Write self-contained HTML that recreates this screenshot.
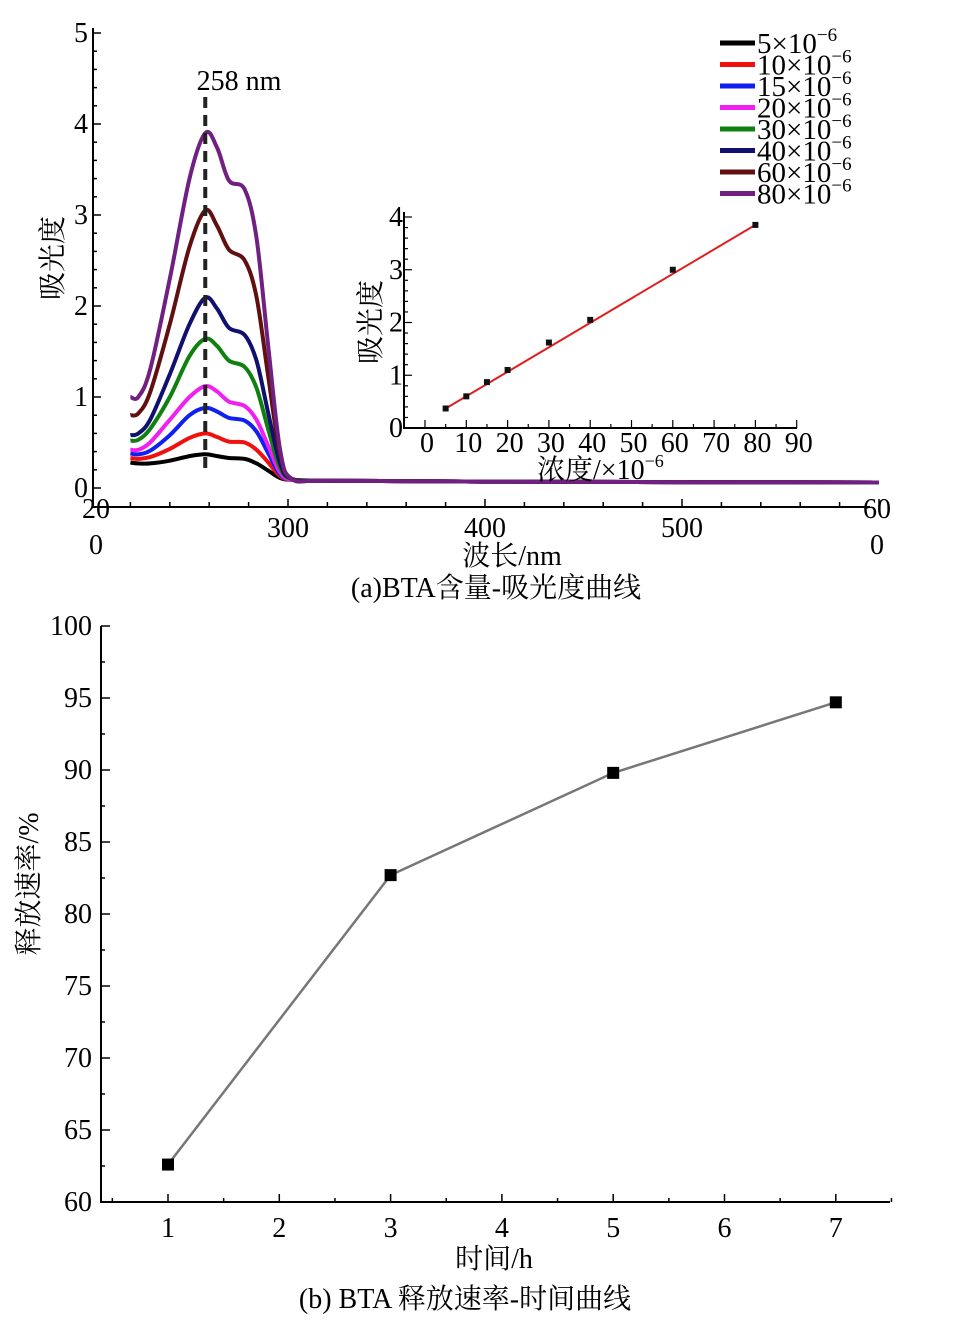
<!DOCTYPE html>
<html><head><meta charset="utf-8"><style>
body{margin:0;background:#fff;}
svg{display:block;font-family:"Liberation Serif","Noto Serif CJK SC",serif;}
</style></head><body>
<svg id="fig" width="954" height="1325" viewBox="0 0 954 1325" xmlns="http://www.w3.org/2000/svg">
<g id="topchart"></g>
<g id="inset"></g>
<g id="bot"></g>
</svg>
<script>
// ---- Top chart data ----
const wavelengths=[220,224,230,240,250,258,264,270,278,284,290,296,302,320,400,600];
const seriesLabels=["5","10","15","20","30","40","60","80"];
const seriesColors=["#000","#f01010","#1020f0","#f020f0","#108010","#101070","#601010","#702080"];
const s5 =[0.28,0.27,0.27,0.30,0.35,0.37,0.35,0.33,0.32,0.27,0.19,0.11,0.09,0.08,0.07,0.06];
const s10=[0.33,0.32,0.34,0.43,0.55,0.60,0.56,0.51,0.50,0.42,0.28,0.13,0.09,0.08,0.07,0.06];
const s15=[0.38,0.37,0.41,0.58,0.80,0.88,0.84,0.77,0.74,0.62,0.38,0.15,0.09,0.08,0.07,0.06];
const s20=[0.42,0.42,0.50,0.75,1.00,1.12,1.06,0.95,0.90,0.75,0.46,0.17,0.09,0.08,0.07,0.06];
const s30=[0.52,0.53,0.65,1.00,1.45,1.64,1.56,1.40,1.33,1.10,0.64,0.22,0.10,0.08,0.07,0.06];
const s40=[0.58,0.60,0.75,1.25,1.80,2.09,1.97,1.76,1.68,1.40,0.82,0.27,0.10,0.08,0.07,0.06];
const s60=[0.80,0.82,1.05,1.80,2.65,3.05,2.88,2.62,2.50,2.10,1.22,0.37,0.10,0.08,0.07,0.06];
const s80=[1.00,1.00,1.30,2.30,3.40,3.90,3.74,3.38,3.28,2.75,1.55,0.42,0.10,0.08,0.07,0.06];
const allSeries=[s5,s10,s15,s20,s30,s40,s60,s80];
const topYTicks=[0,1,2,3,4,5];
const topXTicks=[300,400,500];
// ---- Inset data ----
const insetConc=[5,10,15,20,30,40,60,80];
const insetAbs=[0.37,0.60,0.87,1.10,1.62,2.05,3.00,3.85];
const insetXTicks=[0,10,20,30,40,50,60,70,80,90];
const insetYTicks=[0,1,2,3,4];
// ---- Bottom chart data ----
const timeH=[1,3,5,7];
const releaseRate=[62.6,82.7,89.8,94.7];
const botXTicks=[1,2,3,4,5,6,7];
const botYTicks=[60,65,70,75,80,85,90,95,100];

const NS="http://www.w3.org/2000/svg";
function mk(parent,tag,attrs,text){const el=document.createElementNS(NS,tag);for(const k in attrs)el.setAttribute(k,attrs[k]);if(text!==undefined)el.textContent=text;parent.appendChild(el);return el;}
function smoothPath(pts){let d='M'+pts[0][0].toFixed(1)+','+pts[0][1].toFixed(1);
for(let i=0;i<pts.length-1;i++){const p0=pts[Math.max(0,i-1)],p1=pts[i],p2=pts[i+1],p3=pts[Math.min(pts.length-1,i+2)];
const c1=[p1[0]+(p2[0]-p0[0])/6,p1[1]+(p2[1]-p0[1])/6],c2=[p2[0]-(p3[0]-p1[0])/6,p2[1]-(p3[1]-p1[1])/6];
d+=' C'+c1[0].toFixed(1)+','+c1[1].toFixed(1)+' '+c2[0].toFixed(1)+','+c2[1].toFixed(1)+' '+p2[0].toFixed(1)+','+p2[1].toFixed(1);}
return d;}

// ===== Top chart =====
const topG=document.getElementById('topchart');
const tx=l=>91+(l-200)*1.97, ty=v=>488-v*91;
let e=mk(topG,'line',{x1:93,y1:28,x2:93,y2:507,stroke:'#000','stroke-width':2});

e=mk(topG,'line',{x1:92,y1:507,x2:870,y2:507,stroke:'#000','stroke-width':2});

for(let v=0;v<=5.001;v+=0.2){const t=mk(topG,'line',{x1:93,y1:ty(v),x2:(Math.abs(v-Math.round(v))<1e-6?101:97),y2:ty(v),stroke:'#000','stroke-width':1.5});
}
for(let l=220;l<=600;l+=20){const t=mk(topG,'line',{x1:tx(l),y1:507,x2:tx(l),y2:(l%100===0?499:502),stroke:'#000','stroke-width':1.5});
}
topYTicks.forEach(v=>{const t=mk(topG,'text',{x:88,y:ty(v)+9,'font-size':28,'text-anchor':'end'},String(v));
});
topXTicks.forEach(v=>{const t=mk(topG,'text',{x:tx(v),y:537,'font-size':28,'text-anchor':'middle'},String(v));
});
[[96,518,'20'],[96,554,'0'],[877,518,'60'],[877,554,'0']].forEach(a=>{const t=mk(topG,'text',{x:a[0],y:a[1],'font-size':28,'text-anchor':'middle'},a[2]);
});
e=mk(topG,'text',{x:512,y:565,'font-size':28,'text-anchor':'middle'},'波长/nm');

e=mk(topG,'text',{transform:'translate(62,258) rotate(-90)','font-size':28,'text-anchor':'middle'},'吸光度');

e=mk(topG,'text',{x:496,y:597,'font-size':28,'text-anchor':'middle'},'(a)BTA含量-吸光度曲线');

allSeries.forEach((s,i)=>{const pts=s.map((v,j)=>[tx(wavelengths[j]),ty(v)]);
const p=mk(topG,'path',{d:smoothPath(pts),fill:'none',stroke:seriesColors[i],'stroke-width':4,'stroke-linejoin':'round'});
});
e=mk(topG,'line',{x1:tx(258),y1:97,x2:tx(258),y2:470,stroke:'#222','stroke-width':4,'stroke-dasharray':'11,7'});

e=mk(topG,'text',{x:239,y:90,'font-size':28,'text-anchor':'middle'},'258 nm');

seriesLabels.forEach((lab,i)=>{const y=43+i*21.5;
const l=mk(topG,'line',{x1:720,y1:y,x2:755,y2:y,stroke:seriesColors[i],'stroke-width':5});

const t=mk(topG,'text',{x:757,y:y+10,'font-size':29},lab+'×10');

mk(t,'tspan',{dy:-12,'font-size':19},'−6');});

// ===== Inset =====
const ins=document.getElementById('inset');
const ix=c=>425+c*4.13, iy=v=>428-v*52.75;
e=mk(ins,'line',{x1:404,y1:212,x2:404,y2:429,stroke:'#000','stroke-width':2});

e=mk(ins,'line',{x1:403,y1:428,x2:797,y2:428,stroke:'#000','stroke-width':2});

for(let v=0;v<=4.001;v+=0.2){const t=mk(ins,'line',{x1:404,y1:iy(v),x2:(Math.abs(v-Math.round(v))<1e-6?412:408),y2:iy(v),stroke:'#000','stroke-width':1.2});
}
for(let c=0;c<=90;c+=5){const t=mk(ins,'line',{x1:ix(c),y1:428,x2:ix(c),y2:(c%10===0?420:424),stroke:'#000','stroke-width':1.2});
}
insetYTicks.forEach(v=>{const t=mk(ins,'text',{x:403,y:iy(v)+9,'font-size':28,'text-anchor':'end'},String(v));
});
insetXTicks.forEach(v=>{const t=mk(ins,'text',{x:ix(v)+2,y:452,'font-size':28,'text-anchor':'middle'},String(v));
});
e=mk(ins,'text',{x:537,y:479,'font-size':28},'浓度/×10');

mk(e,'tspan',{dy:-12,'font-size':18},'−6');
e=mk(ins,'text',{transform:'translate(380,322) rotate(-90)','font-size':28,'text-anchor':'middle'},'吸光度');

e=mk(ins,'line',{x1:ix(insetConc[0]),y1:iy(insetAbs[0]),x2:ix(insetConc[insetConc.length-1]),y2:iy(insetAbs[insetAbs.length-1]),stroke:'#e02020','stroke-width':2});

insetConc.forEach((c,i)=>{const r=mk(ins,'rect',{x:ix(c)-3,y:iy(insetAbs[i])-3,width:6,height:6,fill:'#111'});
});

// ===== Bottom chart =====
const bot=document.getElementById('bot');
const bx=t=>168+(t-1)*111.3, by=v=>1202-(v-60)*14.4;
e=mk(bot,'line',{x1:101,y1:626,x2:101,y2:1203,stroke:'#000','stroke-width':2});

e=mk(bot,'line',{x1:100,y1:1202,x2:890,y2:1202,stroke:'#000','stroke-width':2});

for(let v=60;v<=100;v+=2.5){const t=mk(bot,'line',{x1:101,y1:by(v),x2:(v%5===0?110:105),y2:by(v),stroke:'#000','stroke-width':1.5});
}
for(let t0=0.5;t0<=7.5;t0+=0.5){const t=mk(bot,'line',{x1:bx(t0),y1:1202,x2:bx(t0),y2:(t0%1===0?1194:1198),stroke:'#000','stroke-width':1.5});
}
botYTicks.forEach(v=>{const t=mk(bot,'text',{x:92,y:by(v)+9,'font-size':28,'text-anchor':'end'},String(v));
});
botXTicks.forEach(v=>{const t=mk(bot,'text',{x:bx(v),y:1237,'font-size':28,'text-anchor':'middle'},String(v));
});
e=mk(bot,'text',{x:494,y:1268,'font-size':28,'text-anchor':'middle'},'时间/h');

e=mk(bot,'text',{transform:'translate(38,884) rotate(-90)','font-size':28,'text-anchor':'middle'},'释放速率/%');

e=mk(bot,'text',{x:465,y:1308,'font-size':28,'text-anchor':'middle'},'(b) BTA 释放速率-时间曲线');

e=mk(bot,'path',{d:timeH.map((t,i)=>(i?'L':'M')+bx(t)+','+by(releaseRate[i])).join(' '),fill:'none',stroke:'#777','stroke-width':2.5});

timeH.forEach((t,i)=>{const r=mk(bot,'rect',{x:bx(t)-6,y:by(releaseRate[i])-6,width:12,height:12,fill:'#000'});
});
</script>
</body></html>
